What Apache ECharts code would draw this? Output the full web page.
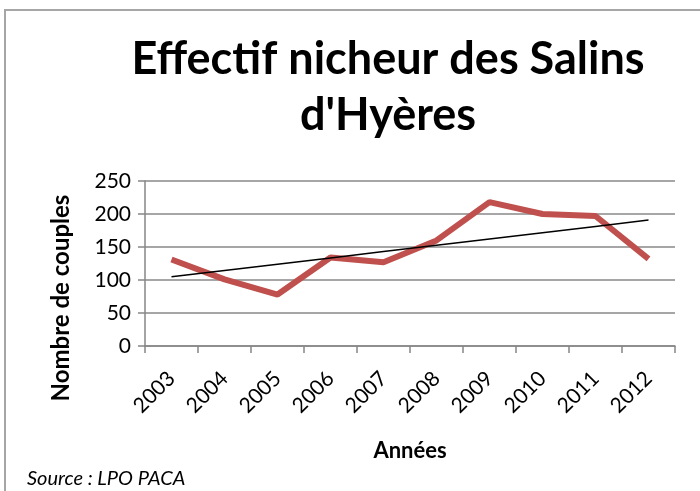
<!DOCTYPE html>
<html>
<head>
<meta charset="utf-8">
<script src="https://cdn.jsdelivr.net/npm/echarts@6/dist/echarts.min.js"></script>
<style>
  html, body { margin: 0; padding: 0; background: #fff; }
  #chart { width: 700px; height: 491px; }
</style>
</head>
<body>
<div id="chart"></div>
<script>
const years = ['2003', '2004', '2005', '2006', '2007', '2008', '2009', '2010', '2011', '2012']
const couples = [131, 101, 78, 134, 127, 160, 218, 200, 197, 132]
const rSquaredText = 'R² = 0,4062'

// linear trend (least squares) on the series
function linearTrend(values) {
  const n = values.length
  const mx = (n - 1) / 2
  const my = values.reduce((a, b) => a + b, 0) / n
  let sxy = 0
  let sxx = 0
  values.forEach((v, i) => {
    sxy += (i - mx) * (v - my)
    sxx += (i - mx) * (i - mx)
  })
  const slope = sxy / sxx
  return values.map((v, i) => +(my + slope * (i - mx)).toFixed(2))
}
const trend = linearTrend(couples)

const font = 'Lato, "Liberation Sans", sans-serif'
const chart = echarts.init(document.getElementById('chart'))
chart.setOption({
  animation: false,
  textStyle: { fontFamily: font },
  title: {
    text: 'Effectif nicheur des Salins\nd\'Hyères',
    left: 383,
    textAlign: 'center',
    top: 26,
    textStyle: {
      fontFamily: font,
      fontSize: 45,
      fontWeight: 'bold',
      color: '#000',
      lineHeight: 56
    }
  },
  grid: { left: 145, right: 25, top: 181, bottom: 145 },
  xAxis: {
    type: 'category',
    data: years,
    name: 'Années',
    nameLocation: 'middle',
    nameGap: 94,
    nameTextStyle: { fontFamily: font, fontSize: 22, fontWeight: 'bold', color: '#000' },
    axisLine: { lineStyle: { color: '#868686', width: 1.5 } },
    axisTick: { show: true, length: 7, lineStyle: { color: '#868686', width: 1.5 } },
    axisLabel: { rotate: 45, fontFamily: font, fontSize: 21, color: '#000', margin: 29 }
  },
  yAxis: {
    type: 'value',
    min: 0,
    max: 250,
    interval: 50,
    axisLine: { show: true, lineStyle: { color: '#868686', width: 1.5 } },
    axisTick: { show: true, length: 7, lineStyle: { color: '#868686', width: 1.5 } },
    splitLine: { lineStyle: { color: '#898989', width: 1.5 } },
    axisLabel: { fontFamily: font, fontSize: 21, color: '#000', margin: 14 }
  },
  graphic: [
    {
      type: 'rect',
      shape: { x: 5, y: 10, width: 800, height: 600 },
      style: { fill: 'none', stroke: '#a6a6a6', lineWidth: 2 },
      silent: true
    },
    {
      type: 'text',
      x: 61,
      y: 298,
      rotation: Math.PI / 2,
      style: {
        text: 'Nombre de couples',
        font: 'bold 24px ' + font,
        fill: '#000',
        textAlign: 'center',
        textVerticalAlign: 'middle'
      }
    },
    {
      type: 'text',
      left: 27,
      top: 469,
      style: {
        text: 'Source : LPO PACA',
        font: 'italic 20px ' + font,
        fill: '#000'
      }
    }
  ],
  series: [
    {
      type: 'line',
      data: couples,
      symbol: 'none',
      lineStyle: { color: '#C0504D', width: 6 },
      z: 3
    },
    {
      type: 'line',
      data: trend.map((v, i) => i === trend.length - 1 ? {
        value: v,
        label: {
          show: true,
          position: 'top',
          formatter: rSquaredText,
          offset: [-10, -2],
          fontFamily: font,
          fontSize: 23,
          color: '#000'
        }
      } : v),
      symbol: 'none',
      lineStyle: { color: '#000', width: 1.5 },
      z: 4
    }
  ]
})
</script>
</body>
</html>
